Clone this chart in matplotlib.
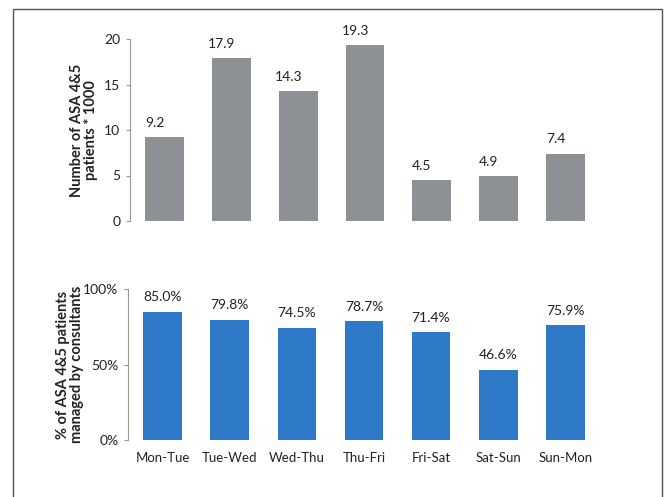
import matplotlib
matplotlib.use("Agg")
import matplotlib.pyplot as plt
from matplotlib.patches import Rectangle
from matplotlib.ticker import FuncFormatter

categories = ["Mon-Tue", "Tue-Wed", "Wed-Thu", "Thu-Fri", "Fri-Sat", "Sat-Sun", "Sun-Mon"]
counts = [9.2, 17.9, 14.3, 19.3, 4.5, 4.9, 7.4]
percents = [85.0, 79.8, 74.5, 78.7, 71.4, 46.6, 75.9]
count_ticks = [0, 5, 10, 15, 20]
pct_ticks = [0, 50, 100]

plt.rcParams['font.family'] = ['Lato', 'DejaVu Sans']

W, H = 670, 497
fig = plt.figure(figsize=(6.7, 4.97), dpi=100)
fig.patches.append(Rectangle((13 / W, -0.05), (662 - 13) / W, 1.05 - 9 / H,
                             transform=fig.transFigure, fill=False,
                             edgecolor="#555555", linewidth=1.0))

gray = "#8D9094"
blue = "#2E79C8"
text_col = "#222222"
x = list(range(len(categories)))

def style(ax):
    for s in ["top", "right", "bottom"]:
        ax.spines[s].set_visible(False)
    ax.spines["left"].set_color("#999999")
    ax.spines["left"].set_linewidth(0.8)
    ax.tick_params(axis="y", length=3, color="#999999", labelsize=10,
                   labelcolor=text_col, pad=4)
    ax.set_xlim(-0.52, 6.52)

# top
ax1 = fig.add_axes([130 / W, 1 - 221 / H, (600 - 130) / W, (221 - 39) / H])
ax1.bar(x, counts, width=0.58, color=gray)
ax1.set_ylim(0, 20)
ax1.set_yticks(count_ticks)
style(ax1)
ax1.set_xticks([])
for xi, v in zip(x, counts):
    ax1.annotate(f"{v:.1f}", (xi, v), xytext=(-7, 6), textcoords="offset points",
                 ha="center", va="bottom", fontsize=10, color=text_col)
ax1.set_ylabel("Number of ASA 4&5\npatients * 1000", fontsize=10.5,
               fontweight="bold", color=text_col, labelpad=4, linespacing=1.0)

# bottom
ax2 = fig.add_axes([128 / W, 1 - 440 / H, (600 - 128) / W, (440 - 289) / H])
ax2.bar(x, percents, width=0.58, color=blue)
ax2.set_ylim(0, 100)
ax2.set_yticks(pct_ticks)
ax2.yaxis.set_major_formatter(FuncFormatter(lambda v, p: f"{v:.0f}%"))
style(ax2)
ax2.set_xticks(x)
ax2.set_xticklabels(categories, fontsize=9.5, color=text_col)
ax2.tick_params(axis="x", length=0, pad=9)
for xi, v in zip(x, percents):
    ax2.annotate(f"{v:.1f}%", (xi, v), xytext=(0, 6), textcoords="offset points",
                 ha="center", va="bottom", fontsize=10, color=text_col)
ax2.set_ylabel("% of ASA 4&5 patients\nmanaged by consultants", fontsize=10.5,
               fontweight="bold", color=text_col, labelpad=-1, linespacing=1.0)

fig.savefig("out.png", dpi=100, facecolor="white")
